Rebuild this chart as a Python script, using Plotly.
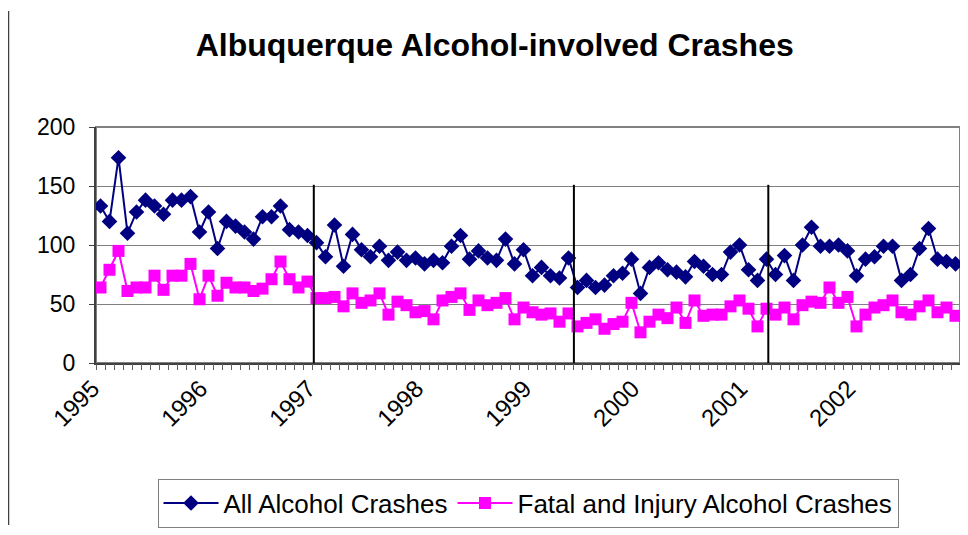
import plotly.graph_objects as go

years = ["1995", "1996", "1997", "1998", "1999", "2000", "2001", "2002"]
months = [f"{y}-{m:02d}" for y in years for m in range(1, 13)]

all_crashes = [
    133, 120, 174, 110, 128, 138, 133, 126, 138, 138, 141, 111, 128, 97, 120, 116,
    111, 105, 124, 124, 133, 113, 111, 108, 102, 90, 117, 82, 109, 96, 90, 99,
    87, 94, 87, 89, 84, 87, 85, 99, 108, 88, 95, 89, 87, 105, 84, 96,
    74, 81, 74, 72, 89, 64, 70, 64, 66, 74, 76, 88, 59, 81, 85, 79,
    77, 73, 86, 82, 75, 75, 94, 100, 79, 70, 88, 75, 91, 70, 100, 115,
    99, 99, 100, 95, 74, 88, 90, 99, 99, 70, 75, 97, 114, 88, 86, 84,
]
fatal_injury = [
    64, 79, 95, 61, 64, 64, 74, 62, 74, 74, 84, 54, 74, 57, 68, 64,
    64, 61, 63, 71, 86, 71, 64, 69, 55, 55, 56, 48, 59, 51, 53, 59,
    41, 52, 49, 43, 44, 37, 53, 56, 59, 45, 53, 49, 51, 55, 37, 47,
    43, 41, 42, 35, 42, 31, 34, 37, 29, 33, 35, 51, 26, 35, 41, 38,
    47, 34, 53, 40, 41, 41, 48, 53, 46, 31, 46, 41, 47, 37, 49, 52,
    51, 64, 51, 56, 31, 41, 47, 49, 53, 43, 41, 48, 53, 43, 47, 40,
]
marker_lines = [23.7, 52.6, 74.2]
marker_line_top = 151

idx = list(range(len(months)))
year_ticks = [months.index(f"{y}-01") for y in years]

fig = go.Figure()
fig.add_trace(go.Scatter(
    x=idx, y=all_crashes, mode="lines+markers", name="All Alcohol Crashes",
    line=dict(color="#000080", width=2),
    marker=dict(symbol="diamond", size=12, color="#000080"),
    text=months, hovertemplate="%{text}: %{y}<extra></extra>",
))
fig.add_trace(go.Scatter(
    x=idx, y=fatal_injury, mode="lines+markers", name="Fatal and Injury Alcohol Crashes",
    line=dict(color="#FF00FF", width=2),
    marker=dict(symbol="square", size=12, color="#FF00FF"),
    text=months, hovertemplate="%{text}: %{y}<extra></extra>",
))
# invisible trace carrying the category-boundary tick axis
fig.add_trace(go.Scatter(x=[-0.5], y=[0], xaxis="x2", mode="markers",
                         marker=dict(opacity=0), showlegend=False, hoverinfo="skip"))

for xv in marker_lines:
    fig.add_shape(type="line", x0=xv, x1=xv, y0=0, y1=marker_line_top,
                  xref="x", yref="y", line=dict(color="black", width=2))

# plot area border (gray)
fig.add_shape(type="rect", xref="paper", yref="paper", x0=0, x1=1, y0=0, y1=1,
              line=dict(color="#808080", width=2), layer="below")
# outer chart frame (left edge)
fig.add_shape(type="line", xref="paper", yref="paper",
              x0=-87.5/864, x1=-87.5/864, y0=-166/242, y1=1 + 119/242,
              line=dict(color="#404040", width=1.5), layer="below")

rng = [-0.5, len(months) - 0.5]
fig.update_layout(
    width=960, height=527,
    margin=dict(l=88, r=8, t=119, b=166),
    paper_bgcolor="white", plot_bgcolor="white",
    font=dict(family="Liberation Sans, Arial, sans-serif", color="black"),
    title=dict(text="<b>Albuquerque Alcohol-involved Crashes</b>", x=0.507, xanchor="center",
               y=0.93, yanchor="middle", font=dict(size=32, color="black")),
    xaxis=dict(range=rng, tickmode="array", tickvals=year_ticks, ticktext=years,
               tickangle=-45, ticks="", tickfont=dict(size=24), ticklabelshift=-8,
               showgrid=False, zeroline=False, showline=True,
               linecolor="#404040", linewidth=2, fixedrange=True),
    xaxis2=dict(range=rng, overlaying="x", side="bottom", anchor="y",
                tickmode="array", tickvals=[i - 0.5 for i in range(len(months) + 1)],
                ticks="outside", ticklen=6, tickcolor="#606060", tickwidth=1,
                showticklabels=False, showgrid=False, zeroline=False, showline=False),
    yaxis=dict(range=[0, 200], dtick=50, tickfont=dict(size=23),
               ticks="outside", ticklen=5, tickcolor="#404040",
               showgrid=True, gridcolor="#808080", gridwidth=1,
               zeroline=False, showline=True, linecolor="#404040", linewidth=2,
               ticklabelstandoff=9),
    legend=dict(orientation="h", x=0.5, xanchor="center", y=-0.49, yanchor="top",
                bordercolor="#808080", borderwidth=1, font=dict(size=26),
                itemwidth=55),
    showlegend=True,
)

fig.write_html("out.html")
